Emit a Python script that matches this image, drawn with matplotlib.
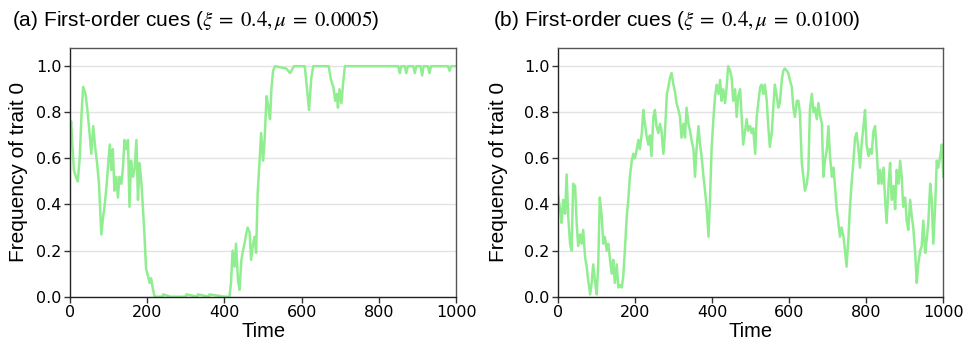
import matplotlib
matplotlib.use("Agg")
import matplotlib.pyplot as plt

# panel (a): xi = 0.4, mu = 0.0005
time_a = [0, 3, 6, 10, 15, 20, 25, 30, 34, 40, 45, 50, 55, 60, 65, 70, 75, 81, 86, 90,
          95, 99, 103, 107, 111, 115, 120, 124, 128, 133, 137, 141, 146, 150, 154, 158, 163, 167,
          172, 176, 180, 185, 189, 193, 197, 202, 206, 210, 215, 219, 240, 241, 260, 300, 301,
          330, 331, 360, 361, 400, 413, 417, 421, 426, 430, 435, 439, 444, 448, 452, 456,
          460, 465, 469, 474, 478, 482, 486, 491, 495, 500, 504, 509, 514, 518, 522, 526, 531,
          560, 570, 580, 608, 614, 619, 625, 630, 670, 676, 682, 687, 691, 694, 698, 703,
          707, 712, 850, 854, 858, 867, 871, 875, 889, 893, 897, 908, 912, 916, 927, 931,
          935, 979, 983, 987, 1000]
freq_a = [0.71, 0.76, 0.66, 0.55, 0.52, 0.50, 0.60, 0.80, 0.91, 0.88, 0.81, 0.72, 0.62, 0.74,
          0.65, 0.58, 0.49, 0.27, 0.35, 0.40, 0.49, 0.58, 0.66, 0.55, 0.64, 0.46, 0.52, 0.43,
          0.52, 0.49, 0.56, 0.68, 0.64, 0.68, 0.39, 0.59, 0.52, 0.55, 0.68, 0.42, 0.58, 0.49,
          0.38, 0.26, 0.12, 0.09, 0.06, 0.08, 0.03, 0.00, 0.00, 0.01, 0.00, 0.00, 0.01, 0.00,
          0.01, 0.00, 0.01, 0.00, 0.00, 0.06, 0.20, 0.13, 0.23, 0.07, 0.03, 0.16, 0.20, 0.23,
          0.27, 0.30, 0.28, 0.16, 0.23, 0.26, 0.19, 0.45, 0.59, 0.71, 0.59, 0.68, 0.87, 0.82,
          0.77, 0.91, 0.98, 1.00, 0.99, 0.97, 1.00, 1.00, 0.90, 0.81, 0.95, 1.00, 1.00, 0.94,
          0.91, 0.85, 0.88, 0.82, 0.90, 0.84, 0.92, 1.00, 1.00, 0.97, 1.00, 1.00, 0.97, 1.00,
          1.00, 0.97, 1.00, 1.00, 0.96, 1.00, 1.00, 0.97, 1.00, 1.00, 0.98, 1.00, 1.00]

# panel (b): xi = 0.4, mu = 0.0100
time_b = [0, 6, 10, 14, 19, 23, 27, 32, 36, 40, 45, 49, 53, 58, 62, 66, 71, 75, 79, 84, 88,
          92, 97, 101, 105, 109, 114, 118, 122, 127, 131, 135, 140, 144, 148, 153, 157, 161,
          166, 170, 174, 179, 183, 187, 192, 196, 200, 205, 209, 213, 218, 222, 226, 231, 235,
          239, 243, 248, 252, 256, 261, 265, 269, 274, 278, 283, 287, 291, 295, 300, 304, 308,
          313, 317, 321, 326, 330, 334, 339, 343, 347, 352, 356, 360, 365, 369, 373, 378, 382,
          386, 391, 395, 399, 404, 408, 412, 417, 421, 425, 429, 434, 438, 442, 447, 451, 455,
          460, 464, 468, 473, 477, 481, 486, 490, 494, 499, 503, 507, 512, 516, 520, 525, 529,
          533, 537, 542, 546, 550, 555, 559, 563, 568, 572, 576, 581, 585, 589, 594, 598, 602,
          607, 611, 615, 620, 624, 628, 633, 637, 641, 646, 650, 654, 659, 663, 667, 672, 676,
          680, 685, 689, 693, 698, 702, 706, 711, 715, 719, 723, 728, 732, 736, 741, 745, 749,
          754, 758, 762, 767, 771, 775, 780, 784, 788, 793, 797, 801, 806, 810, 814, 819, 823,
          827, 832, 836, 840, 845, 849, 853, 858, 862, 866, 871, 875, 879, 884, 888, 892, 896,
          901, 905, 909, 914, 918, 922, 927, 931, 935, 940, 944, 948, 953, 957, 961, 966, 970,
          974, 979, 983, 987, 992, 996, 1000]
freq_b = [0.45, 0.38, 0.32, 0.42, 0.36, 0.53, 0.35, 0.23, 0.20, 0.49, 0.48, 0.32, 0.22, 0.27,
          0.23, 0.29, 0.17, 0.13, 0.07, 0.01, 0.06, 0.14, 0.06, 0.01, 0.14, 0.43, 0.35, 0.23,
          0.26, 0.20, 0.23, 0.17, 0.10, 0.16, 0.06, 0.14, 0.04, 0.05, 0.04, 0.09, 0.20, 0.35,
          0.42, 0.52, 0.59, 0.62, 0.60, 0.64, 0.68, 0.64, 0.71, 0.81, 0.75, 0.69, 0.66, 0.70,
          0.61, 0.78, 0.81, 0.74, 0.71, 0.75, 0.72, 0.62, 0.71, 0.88, 0.91, 0.95, 0.97, 0.92,
          0.89, 0.84, 0.81, 0.78, 0.69, 0.75, 0.69, 0.82, 0.75, 0.72, 0.68, 0.64, 0.52, 0.64,
          0.74, 0.66, 0.61, 0.52, 0.46, 0.39, 0.26, 0.43, 0.64, 0.78, 0.87, 0.92, 0.88, 0.94,
          0.85, 0.90, 0.84, 0.91, 1.00, 0.98, 0.95, 0.85, 0.90, 0.78, 0.87, 0.90, 0.78, 0.66,
          0.72, 0.77, 0.72, 0.74, 0.71, 0.73, 0.62, 0.78, 0.84, 0.91, 0.92, 0.88, 0.92, 0.85,
          0.74, 0.65, 0.71, 0.82, 0.92, 0.87, 0.82, 0.84, 0.94, 0.98, 0.99, 0.98, 0.97, 0.94,
          0.91, 0.82, 0.78, 0.85, 0.85, 0.80, 0.58, 0.52, 0.46, 0.49, 0.55, 0.81, 0.88, 0.80,
          0.82, 0.77, 0.84, 0.79, 0.75, 0.52, 0.59, 0.64, 0.74, 0.61, 0.52, 0.56, 0.48, 0.39,
          0.32, 0.26, 0.30, 0.26, 0.20, 0.13, 0.26, 0.39, 0.49, 0.59, 0.69, 0.71, 0.64, 0.56,
          0.66, 0.74, 0.81, 0.66, 0.61, 0.64, 0.62, 0.72, 0.74, 0.64, 0.49, 0.55, 0.49, 0.56,
          0.42, 0.32, 0.49, 0.58, 0.42, 0.48, 0.38, 0.55, 0.49, 0.59, 0.52, 0.39, 0.43, 0.33,
          0.29, 0.42, 0.35, 0.30, 0.19, 0.06, 0.14, 0.20, 0.22, 0.33, 0.19, 0.25, 0.32, 0.49,
          0.42, 0.23, 0.40, 0.59, 0.56, 0.61, 0.66, 0.52]

titles = [r"(a) First-order cues ($\xi\;=\;0.4,\mu\;=\;0.0005$)",
          r"(b) First-order cues ($\xi\;=\;0.4,\mu\;=\;0.0100$)"]
xticks = [0, 200, 400, 600, 800, 1000]
yticks = [0.0, 0.2, 0.4, 0.6, 0.8, 1.0]

plt.rcParams['font.family'] = ['Liberation Sans', 'DejaVu Sans']
plt.rcParams['mathtext.fontset'] = 'stix'

fig = plt.figure(figsize=(9.7, 3.46), dpi=100)
ax_a = fig.add_axes([0.0722, 0.1425, 0.398, 0.7195])
ax_b = fig.add_axes([0.575, 0.1425, 0.3975, 0.7195])

panels = [(ax_a, time_a, freq_a, -0.109), (ax_b, time_b, freq_b, -0.129)]
for ax, t, f, ylab_x in panels:
    ax.plot(t, f, color="#90ee90", lw=1.8)
    ax.set_xlim(0, 1000)
    ax.set_ylim(0, 1.08)
    ax.set_xticks(xticks)
    ax.set_yticks(yticks)
    ax.set_yticklabels([f"{y:.1f}" for y in yticks])
    for lab in ax.get_xticklabels() + ax.get_yticklabels():
        lab.set_fontfamily("DejaVu Sans")
    ax.yaxis.grid(True, color="#e3e3e3", lw=1)
    ax.set_axisbelow(True)
    ax.tick_params(labelsize=11.5, length=4, width=1, color="#333333", pad=2)
    for s in ax.spines.values():
        s.set_color("#555555")
        s.set_linewidth(1)
    ax.spines['left'].set_color("#222222")
    ax.spines['bottom'].set_color("#222222")
    ax.set_xlabel("Time", fontsize=14.5)
    ax.set_ylabel("Frequency of trait 0", fontsize=15)
    ax.xaxis.set_label_coords(0.5, -0.10)
    ax.yaxis.set_label_coords(ylab_x, 0.5)

fig.text(12 / 970, 1 - 21 / 346, titles[0], fontsize=15, va="center", ha="left")
fig.text(493 / 970, 1 - 21 / 346, titles[1], fontsize=15, va="center", ha="left")

fig.savefig("out.png", dpi=100)
